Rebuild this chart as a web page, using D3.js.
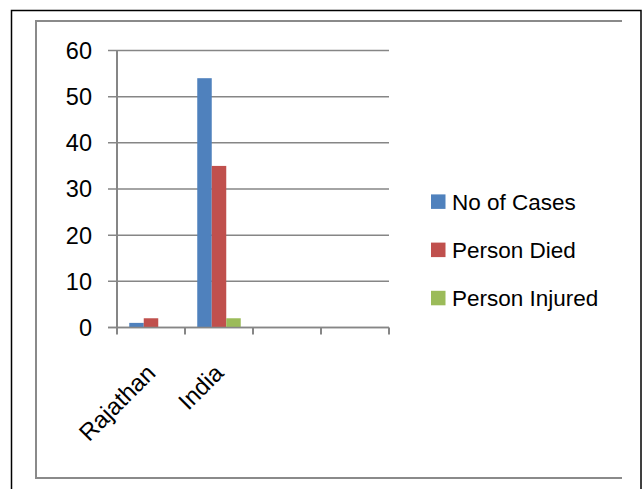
<!DOCTYPE html>
<html>
<head>
<meta charset="utf-8">
<script src="https://cdn.jsdelivr.net/npm/d3@7/dist/d3.min.js"></script>
<style>
  html, body { margin: 0; padding: 0; background: #fff; }
  svg { display: block; }
  text { font-family: "Liberation Sans", Arial, sans-serif; fill: #000; }
</style>
</head>
<body>
<svg id="chart" width="642" height="489"></svg>
<script>
const categories = ["Rajathan", "India", "", ""];
const seriesNames = ["No of Cases", "Person Died", "Person Injured"];
const noOfCases = [1, 54];
const personDied = [2, 35];
const personInjured = [0, 2];
const yTicks = [0, 10, 20, 30, 40, 50, 60];
const colors = ["#4F81BD", "#C0504D", "#9BBB59"];

(function () {
const svg = d3.select("#chart");
const series = [noOfCases, personDied, personInjured];

// outer frame (black) and inner chart-area frame (gray)
svg.append("rect").attr("x", 11.5).attr("y", 10.5).attr("width", 629.5).attr("height", 490)
  .attr("fill", "none").attr("stroke", "#000").attr("stroke-width", 1.5);
svg.append("path").attr("d", "M622,21H36V478H622")
  .attr("fill", "none").attr("stroke", "#8a8a8a").attr("stroke-width", 2);

const pLeft = 117, pRight = 389, pTop = 50.5, pBottom = 327.5;
const x = d3.scaleBand().domain(d3.range(categories.length)).range([pLeft, pRight]).padding(0);
const y = d3.scaleLinear().domain([0, 60]).range([pBottom, pTop]);

// gridlines
svg.append("g").selectAll("line").data(yTicks).join("line")
  .attr("x1", pLeft - 9).attr("x2", pRight)
  .attr("y1", d => y(d)).attr("y2", d => y(d))
  .attr("stroke", "#868686").attr("stroke-width", 1.5);

// y axis line
svg.append("line").attr("x1", pLeft).attr("x2", pLeft).attr("y1", pTop).attr("y2", pBottom)
  .attr("stroke", "#868686").attr("stroke-width", 2);

// y tick labels
svg.append("g").selectAll("text").data(yTicks).join("text")
  .attr("x", 92).attr("y", d => y(d)).attr("dy", "0.36em")
  .attr("text-anchor", "end").attr("font-size", 23.5)
  .text(d => d);

// category ticks
const catEdges = d3.range(categories.length + 1).map(i => pLeft + i * x.bandwidth());
svg.append("g").selectAll("line").data(catEdges).join("line")
  .attr("x1", d => d).attr("x2", d => d).attr("y1", pBottom).attr("y2", pBottom + 7)
  .attr("stroke", "#868686").attr("stroke-width", 2);

// bars
const barW = 14.5;
series.forEach((vals, si) => {
  svg.append("g").selectAll("rect").data(vals.map((v, i) => ({ v, i }))).join("rect")
    .attr("x", d => x(d.i) + x.bandwidth() / 2 - 1.5 * barW + si * barW)
    .attr("y", d => y(d.v))
    .attr("width", barW)
    .attr("height", d => y(0) - y(d.v))
    .attr("fill", colors[si]);
});

// baseline redraw on top
svg.append("line").attr("x1", pLeft - 9).attr("x2", pRight).attr("y1", y(0)).attr("y2", y(0))
  .attr("stroke", "#868686").attr("stroke-width", 1.5);

// category labels rotated
svg.append("g").selectAll("text").data(categories.map((c, i) => ({ c, i })).filter(d => d.c)).join("text")
  .attr("transform", d => `translate(${x(d.i) + x.bandwidth() / 2 + 6},${pBottom + 47}) rotate(-45)`)
  .attr("text-anchor", "end").attr("font-size", 24)
  .text(d => d.c);

// legend
const lg = svg.append("g");
seriesNames.forEach((name, i) => {
  const cy = 201.7 + i * 48.2;
  lg.append("rect").attr("x", 431).attr("y", cy - 7.3).attr("width", 14.5).attr("height", 14.5).attr("fill", colors[i]);
  lg.append("text").attr("x", 452).attr("y", cy).attr("dy", "0.36em").attr("font-size", 22.5).text(name);
});
})();
</script>
</body>
</html>
